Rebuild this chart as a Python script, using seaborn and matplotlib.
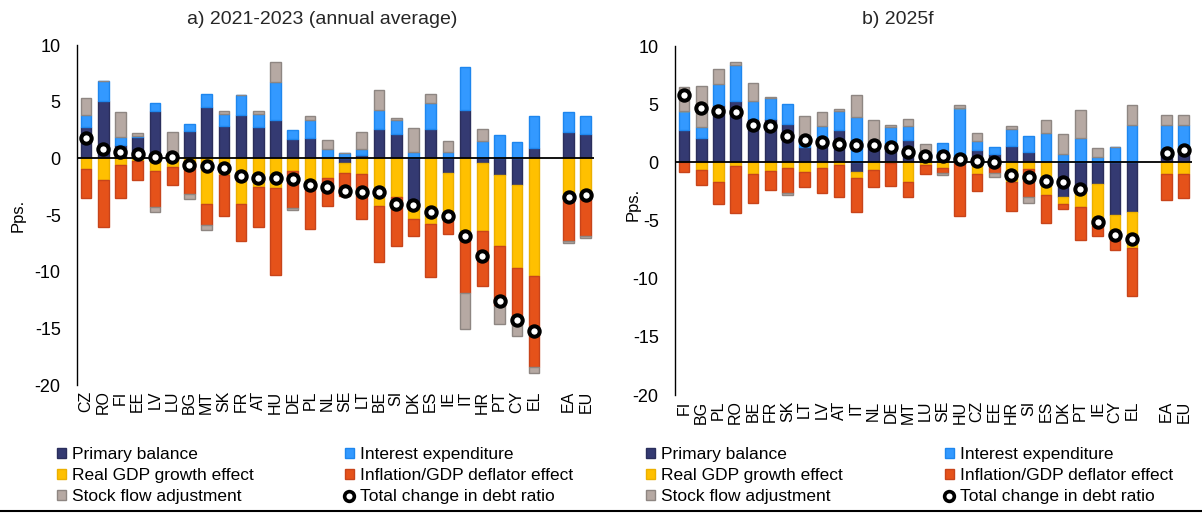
import numpy as np
import pandas as pd
import seaborn as sns
import matplotlib.pyplot as plt
from matplotlib.patches import Patch
from matplotlib.lines import Line2D

sns.set_theme(style="white")
plt.rcParams['font.family'] = ['Liberation Sans', 'DejaVu Sans']
plt.rcParams['axes.unicode_minus'] = False

# ---- data -------------------------------------------------------------
left_countries = ["CZ", "RO", "FI", "EE", "LV", "LU", "BG", "MT", "SK", "FR", "AT", "HU", "DE", "PL",
                  "NL", "SE", "LT", "BE", "SI", "DK", "ES", "IE", "IT", "HR", "PT", "CY", "EL", "EA", "EU"]
left_pb = [2.8, 5.1, 1.2, 1.85, 4.2, 0.1, 2.45, 4.55, 2.85, 3.8, 2.75, 3.4, 1.75, 1.8,
           0.15, -0.45, 0.3, 2.55, 2.15, -4.1, 2.55, -1.25, 4.3, -0.4, -1.45, -2.35, 0.95, 2.35, 2.15]
left_ie = [1.0, 1.75, 0.7, 0.15, 0.65, 0.0, 0.55, 1.1, 1.1, 1.8, 1.15, 3.3, 0.75, 1.55,
           0.7, 0.5, 0.5, 1.75, 1.2, 0.6, 2.3, 0.6, 3.8, 1.5, 2.05, 1.4, 2.8, 1.7, 1.6]
left_gdp = [-0.9, -1.9, -0.6, -0.25, -1.1, -0.8, -0.3, -4.0, -1.5, -4.0, -2.5, -2.6, -1.1, -2.5,
            -1.75, -0.8, -1.4, -4.2, -3.4, -1.25, -5.75, -4.2, -6.9, -6.0, -6.25, -7.35, -10.35, -3.55, -3.4]
left_inf = [-2.6, -4.2, -2.9, -1.65, -3.2, -1.55, -2.85, -1.9, -3.6, -3.3, -3.55, -7.7, -3.3, -3.75,
            -2.45, -2.1, -3.95, -4.95, -4.3, -1.5, -4.75, -1.25, -4.95, -4.9, -5.35, -5.0, -8.1, -3.7, -3.45]
left_sfa = [1.5, 0.0, 2.2, 0.25, -0.4, 2.2, -0.4, -0.45, 0.25, 0.0, 0.3, 1.8, -0.15, 0.4,
            0.75, 0.0, 1.5, 1.75, 0.25, 2.05, 0.8, 0.95, -3.2, 1.1, -1.6, -1.0, -0.5, -0.25, -0.2]
left_total = [1.8, 0.8, 0.55, 0.35, 0.1, 0.1, -0.55, -0.7, -0.85, -1.6, -1.7, -1.75, -1.85, -2.35,
              -2.55, -2.85, -2.95, -3.0, -4.0, -4.1, -4.75, -5.1, -6.85, -8.6, -12.55, -14.3, -15.2, -3.4, -3.2]

right_countries = ["FI", "BG", "PL", "RO", "BE", "FR", "SK", "LT", "LV", "AT", "IT", "NL", "DE", "MT",
                   "LU", "SE", "HU", "CZ", "EE", "HR", "SI", "ES", "DK", "PT", "IE", "CY", "EL", "EA", "EU"]
right_pb = [2.75, 2.1, 4.95, 5.25, 3.7, 3.7, 3.3, 1.3, 1.95, 2.75, -0.85, 1.5, 1.65, 1.95,
            0.6, 0.2, 0.05, 1.1, 0.75, 1.4, 0.85, 0.0, -3.0, -2.3, -1.9, -4.5, -4.3, 1.0, 1.1]
right_ie = [1.7, 0.9, 1.8, 3.15, 1.6, 1.85, 1.7, 0.4, 1.15, 1.65, 3.9, 0.1, 1.4, 1.2,
            0.2, 1.5, 4.6, 0.75, 0.55, 1.5, 1.4, 2.5, 0.7, 2.1, 0.5, 1.3, 3.25, 2.2, 2.15]
right_gdp = [0.0, -0.65, -1.65, -0.35, -1.0, -0.75, -0.45, -0.85, -0.45, -0.2, -0.5, -0.7, -0.1, -1.7,
             -0.2, -0.45, 0.0, -1.0, -0.35, -1.7, -0.55, -2.8, -0.55, -1.55, -3.6, -2.15, -3.1, -1.0, -1.0]
right_inf = [-0.8, -1.3, -1.9, -4.0, -2.5, -1.65, -2.15, -1.25, -2.15, -2.8, -2.95, -1.4, -1.9, -1.25,
             -0.8, -0.45, -4.65, -1.45, -0.6, -2.5, -2.4, -2.45, -0.5, -2.85, -0.85, -0.9, -4.05, -2.2, -2.1]
right_sfa = [2.0, 3.6, 1.3, 0.25, 1.5, 0.1, -0.25, 2.3, 1.25, 0.15, 1.9, 2.0, 0.15, 0.6,
             0.8, -0.2, 0.3, 0.7, -0.3, 0.2, -0.55, 1.15, 1.75, 2.4, 0.7, 0.0, 1.7, 0.85, 0.85]
right_total = [5.75, 4.7, 4.45, 4.35, 3.25, 3.15, 2.25, 1.9, 1.75, 1.6, 1.5, 1.45, 1.3, 0.85,
               0.57, 0.55, 0.3, 0.15, 0.0, -1.1, -1.3, -1.6, -1.65, -2.3, -5.15, -6.25, -6.55, 0.8, 1.05]

components = ["Primary balance", "Interest expenditure", "Real GDP growth effect",
              "Inflation/GDP deflator effect", "Stock flow adjustment"]
fills = ["#343A72", "#3399FF", "#FFC000", "#E5521A", "#B6A9A3"]
edges = ["#2A2E5C", "#1E86EE", "#EBB000", "#C8441A", "#8E8682"]

# 27 countries, one empty slot, then EA / EU
pos = np.r_[np.arange(27), 28, 29]


def draw_panel(ax, names, series, total):
    df = pd.DataFrame(dict(zip(components, series)), index=names)
    pos_base = np.zeros(len(df))
    neg_base = np.zeros(len(df))
    for comp, fc, ec in zip(components, fills, edges):
        v = df[comp].values
        base = np.where(v >= 0, pos_base, neg_base)
        ax.bar(pos, v, bottom=base, width=0.62, color=fc, edgecolor=ec, linewidth=1.0, zorder=2)
        pos_base = pos_base + np.clip(v, 0, None)
        neg_base = neg_base + np.clip(v, None, 0)
    ax.axhline(0, color="black", lw=1.3, zorder=3)
    sns.scatterplot(x=pos, y=total, ax=ax, s=56, color="white", edgecolor="black",
                    linewidth=2.9, zorder=4, legend=False)
    ax.set_xlim(-0.5, 29.5)
    ax.set_ylim(-20, 10)
    ax.set_yticks(range(-20, 11, 5))
    ax.set_xticks(pos)
    ax.set_xticklabels(names, rotation=90, fontsize=11.5, color="black")
    ax.tick_params(axis="y", length=0, pad=12, labelsize=13, labelcolor="black")
    ax.tick_params(axis="x", length=0, pad=4)
    for s in ["top", "right", "bottom"]:
        ax.spines[s].set_visible(False)
    ax.spines["left"].set_color("black")
    ax.spines["left"].set_linewidth(1.0)
    ax.set_ylabel("Pps.", fontsize=12, color="black")


fig = plt.figure(figsize=(12.02, 5.13), dpi=100)
ax1 = fig.add_axes([77.4 / 1202, 128 / 513, 517 / 1202, 340 / 513])
ax2 = fig.add_axes([675.4 / 1202, 118 / 513, 517 / 1202, 349 / 513])

draw_panel(ax1, left_countries, [left_pb, left_ie, left_gdp, left_inf, left_sfa], left_total)
draw_panel(ax2, right_countries, [right_pb, right_ie, right_gdp, right_inf, right_sfa], right_total)
ax1.yaxis.set_label_coords(-0.1, 0.5)
ax2.yaxis.set_label_coords(-0.068, 0.547)

fig.text(322 / 1202, 1 - 20 / 513, "a) 2021-2023 (annual average)", ha="center", va="center", fontsize=14)
fig.text(898 / 1202, 1 - 20 / 513, "b) 2025f", ha="center", va="center", fontsize=14)

# legends, two columns per panel
patches = [Patch(facecolor=fc, edgecolor=ec, label=c) for c, fc, ec in zip(components, fills, edges)]
dot = Line2D([], [], marker="o", ls="none", ms=7, mfc="white", mec="black", mew=2.6,
             label="Total change in debt ratio")
col1 = [patches[0], patches[2], patches[4]]
col2 = [patches[1], patches[3], dot]
leg_kw = dict(loc="upper left", frameon=False, fontsize=12.5, borderpad=0, handlelength=0.5,
              handleheight=0.5, handletextpad=0.35, labelspacing=0.36, borderaxespad=0)
for xpx, hs in [(57, col1), (345, col2), (646, col1), (945, col2)]:
    lg = fig.legend(handles=hs, bbox_to_anchor=(xpx / 1202, 1 - 447 / 513), **leg_kw)
    for t in lg.get_texts():
        t.set_color("black")

fig.add_artist(Line2D([0, 1], [2 / 513, 2 / 513], color="black", lw=1.5, transform=fig.transFigure))

fig.savefig("out.png", dpi=100)
